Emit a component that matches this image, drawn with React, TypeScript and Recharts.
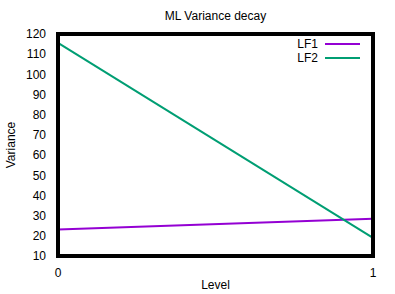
import { LineChart, Line, XAxis, YAxis } from "recharts";

const levels = [0, 1];
const lf1 = [23.1, 28.5];
const lf2 = [115.6, 19.0];
const yTicks = [10, 20, 30, 40, 50, 60, 70, 80, 90, 100, 110, 120];
const xTicks = [0, 1];
const seriesNames = ["LF1", "LF2"];
const seriesColors = ["#9400D3", "#009E73"];

const data = levels.map((lv, i) => ({ level: lv, LF1: lf1[i], LF2: lf2[i] }));

const FONT = "'Liberation Sans', Arial, sans-serif";
const noTick = () => <g />;

export default function App() {
  return (
    <div style={{ position: "absolute", left: 0, top: 0, width: 395, height: 294, background: "#fff", fontFamily: FONT }}>
      <div style={{ position: "absolute", left: 58, width: 315, top: 9, textAlign: "center", fontSize: 12 }}>
        ML Variance decay
      </div>
      <div style={{ position: "absolute", left: 58, width: 315, top: 278, textAlign: "center", fontSize: 12 }}>
        Level
      </div>
      <div
        style={{
          position: "absolute", left: 11, top: 145, fontSize: 12,
          transform: "translate(-50%, -50%) rotate(-90deg)",
        }}
      >
        Variance
      </div>
      <LineChart width={395} height={294} data={data} margin={{ top: 34, right: 22, bottom: 8, left: 8 }}>
        <XAxis
          dataKey="level" type="number" domain={[0, 1]} ticks={xTicks}
          axisLine={false} tickLine={false}
          tick={{ fill: "#000", fontSize: 12, fontFamily: FONT }} tickMargin={6} height={30}
        />
        <YAxis
          type="number" domain={[10, 120]} ticks={yTicks} interval={0}
          axisLine={false} tickLine={false}
          tick={{ fill: "#000", fontSize: 12, fontFamily: FONT }} tickMargin={6} width={50}
        />
        <YAxis
          yAxisId="inL" orientation="left" mirror type="number" domain={[10, 120]} ticks={yTicks}
          interval={0} axisLine={false} tickLine={{ stroke: "#000" }} tickSize={6} tick={noTick} width={0}
        />
        <YAxis
          yAxisId="r" orientation="right" mirror type="number" domain={[10, 120]} ticks={yTicks}
          interval={0} axisLine={false} tickLine={{ stroke: "#000" }}
          tickSize={6} tick={noTick} width={0}
        />
        <Line dataKey="LF1" stroke={seriesColors[0]} strokeWidth={2} dot={false} isAnimationActive={false} />
        <Line dataKey="LF2" stroke={seriesColors[1]} strokeWidth={2} dot={false} isAnimationActive={false} />
      </LineChart>
      <div
        style={{
          position: "absolute", left: 56, top: 32, width: 319, height: 226,
          boxSizing: "border-box", border: "4px solid #000", pointerEvents: "none",
        }}
      />
      {seriesNames.map((name, i) => (
        <div
          key={name}
          style={{
            position: "absolute", right: 35, top: 37 + i * 14, width: 120, height: 14,
            display: "flex", justifyContent: "flex-end", alignItems: "center", fontSize: 12,
          }}
        >
          <span style={{ marginRight: 7 }}>{name}</span>
          <span style={{ display: "inline-block", width: 35, height: 2, background: seriesColors[i] }} />
        </div>
      ))}
    </div>
  );
}
